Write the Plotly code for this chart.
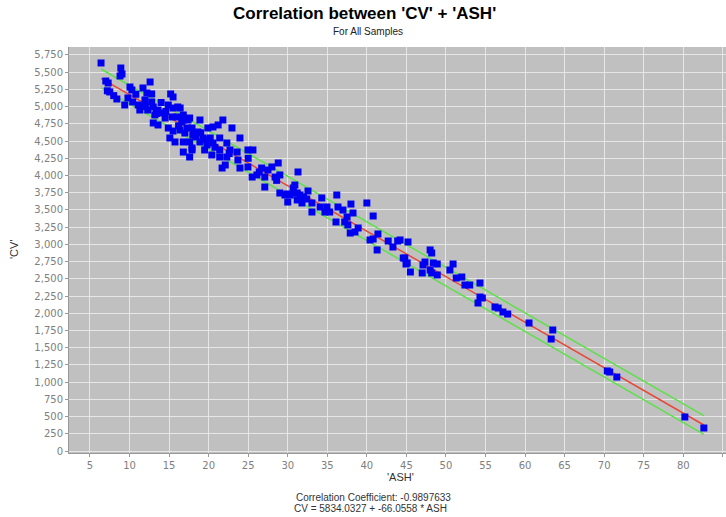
import plotly.graph_objects as go

# ---- data ----
ash = [
    6.4, 8.9, 9.05, 8.8, 7.0, 7.3, 7.5, 8.4,
    10.06, 10.3, 12.6, 11.7, 12.2, 12.8,
    9.8, 10.4, 9.4, 11.1, 11.95, 12.8, 11.3, 12.3, 13.0, 15.2, 15.5,
    13.6, 14.2, 14.9, 15.5, 16.1, 14.5, 15.4, 16.0, 16.8, 13.0, 13.6, 16.6, 17.4,
    14.9, 15.5, 16.4, 17.0, 15.1, 15.75, 17.9, 18.0, 16.8, 17.9, 17.6,
    16.4, 16.8, 17.6, 17.3, 18.9, 18.65, 16.8, 17.6, 17.9, 18.9,
    19.9, 20.55, 21.8, 21.2, 22.95, 23.96,
    19.3, 20.2, 19.8, 20.55, 21.4, 22.3, 19.5, 20.4, 21.4, 21.4, 22.3, 22.7, 23.6,
    24.97, 25.6, 23.7, 22.1, 21.7, 23.96, 24.97,
    25.5, 26.1, 26.7, 27.5, 28.0, 28.8, 27.1, 28.4, 29.0, 27.1, 29.0, 29.65, 30.3,
    30.9, 31.3, 31.2, 30.0,
    30.7, 29.9, 30.7, 31.55, 32.56, 31.2, 31.8, 32.4,
    33.06, 33.06, 34.3, 34.1, 34.96, 34.7, 35.3, 36.2, 36.35, 36.98, 37.99, 38.25,
    40.0, 40.8,
    36.1, 37.2, 37.5, 37.6, 37.9, 38.5, 38.9, 40.4, 40.8, 41.4, 41.3, 42.7, 43.3,
    43.9, 45.2, 44.8, 45.1,
    44.2, 48.0, 48.2,
    44.6, 44.95, 45.5, 47.0, 47.35, 47.1, 48.0, 48.4, 48.9, 48.2, 48.9,
    50.9, 50.5, 51.3, 52.0, 52.4, 53.0, 54.3, 54.3, 54.05, 56.2, 56.6, 57.2, 57.8,
    54.6, 60.5, 63.5, 63.3, 70.4, 70.7, 71.6, 80.2, 82.6,
    7.2, 8.0, 10.8, 11.5, 13.4, 14.0, 18.4, 19.0, 25.0, 26.4,
    12.0, 13.2, 14.6, 16.2, 18.2, 19.6, 20.8, 22.6, 28.6, 32.0,
]
cv = [
    5634, 5561, 5474, 5445, 5372, 5343, 5213, 5111,
    5285, 5242, 5358, 5271, 5198, 5184,
    5126, 5068, 5024, 5024, 5097, 5068, 4951, 4951, 4995, 5184, 5140,
    4951, 4908, 5024, 4980, 4995, 4835, 4850, 4850, 4879, 4763, 4734, 4777, 4806,
    4690, 4646, 4661, 4617, 4545, 4487, 4690, 4588, 4341, 4371, 4269,
    4980, 4806, 4835, 4690, 4806, 4632, 4487, 4487, 4400, 4487,
    4690, 4705, 4806, 4734, 4690, 4545,
    4545, 4545, 4443, 4472, 4545, 4472, 4371, 4298, 4371, 4269, 4269, 4371, 4341,
    4371, 4371, 4225, 4153, 4109, 4109, 4124,
    3978, 4008, 4109, 4080, 4124, 4182, 3978, 3978, 4008, 3833, 3746, 3717, 3717,
    3862, 4051, 3746, 3615,
    3819, 3732, 3746, 3717, 3775, 3645, 3601, 3659,
    3601, 3470, 3674, 3543, 3543, 3470, 3470, 3717, 3543, 3499, 3586, 3456,
    3601, 3412,
    3325, 3325, 3398, 3282, 3165, 3180, 3238, 3064, 3078, 3151, 2919, 3049, 2962,
    3049, 3035, 2802, 2730,
    3064, 2919, 2875,
    2802, 2715, 2599, 2585, 2744, 2701, 2628, 2730, 2715, 2585, 2556,
    2715, 2628, 2512, 2526, 2410, 2410, 2439, 2236, 2149, 2091, 2076, 2018, 1989,
    2222, 1859, 1757, 1626, 1162, 1147, 1074, 494, 334,
    5230, 5160, 5180, 5000, 4900, 5060, 4560, 4620, 4250, 4050,
    5010, 4880, 4930, 4720, 4620, 4520, 4410, 4320, 3930, 3690,
]

intercept = 5834.0327
slope = -66.0558
band = 135          # half-width of the green band (CV units)
corr = -0.9897633

x_ticks = list(range(5, 90, 5))
y_ticks = list(range(0, 6000, 250))

# ---- derived lines ----
x_line = [min(ash), max(ash)]
y_fit = [intercept + slope * v for v in x_line]
y_up = [v + band for v in y_fit]
y_lo = [v - band for v in y_fit]

fig = go.Figure()
green = "#5EE04A"
fig.add_trace(go.Scatter(x=x_line, y=y_up, mode="lines",
                         line=dict(color=green, width=1.5), hoverinfo="skip"))
fig.add_trace(go.Scatter(x=x_line, y=y_lo, mode="lines",
                         line=dict(color=green, width=1.5), hoverinfo="skip"))
fig.add_trace(go.Scatter(x=x_line, y=y_fit, mode="lines",
                         line=dict(color="#E8483A", width=1.5), hoverinfo="skip"))
fig.add_trace(go.Scatter(x=ash, y=cv, mode="markers",
                         marker=dict(symbol="square", size=7, color="#0000F0",
                                     line=dict(width=0))))

tickfont = dict(family="DejaVu Sans", size=10, color="#808080")
fig.update_layout(
    width=726, height=517,
    margin=dict(l=69, r=0, t=47, b=64),
    paper_bgcolor="white",
    plot_bgcolor="#C0C0C0",
    showlegend=False,
    xaxis=dict(range=[2.35, 85.4], tickvals=x_ticks,
               ticktext=[str(v) for v in x_ticks],
               showgrid=True, gridcolor="#E6E6E6", gridwidth=1,
               zeroline=False, ticks="outside", ticklen=3, tickcolor="#999",
               showline=True, linecolor="#999", linewidth=1,
               tickfont=tickfont),
    yaxis=dict(range=[-29, 5866], tickvals=y_ticks,
               ticktext=[f"{v:,}" for v in y_ticks],
               showgrid=True, gridcolor="#E6E6E6", gridwidth=1,
               zeroline=False, ticks="outside", ticklen=3, tickcolor="#999",
               showline=True, linecolor="#999", linewidth=1,
               tickfont=tickfont),
)

def px_x(p):
    return (p - 69) / 657.0

def px_y(p):
    return (453 - p) / 406.0

ann_font = dict(family="Liberation Sans", size=10, color="#333")
fig.add_annotation(text="<b>Correlation between 'CV' + 'ASH'</b>",
                   x=px_x(364), y=px_y(13), xref="paper", yref="paper",
                   showarrow=False, xanchor="center", yanchor="middle",
                   font=dict(family="Liberation Sans", size=17, color="black"))
fig.add_annotation(text="For All Samples",
                   x=px_x(368), y=px_y(31), xref="paper", yref="paper",
                   showarrow=False, xanchor="center", yanchor="middle",
                   font=dict(family="Liberation Sans", size=10, color="#222"))
fig.add_annotation(text="'ASH'",
                   x=px_x(400), y=px_y(477), xref="paper", yref="paper",
                   showarrow=False, xanchor="center", yanchor="middle",
                   font=dict(family="Liberation Sans", size=11, color="#333"))
fig.add_annotation(text="'CV'", textangle=-90,
                   x=px_x(14), y=px_y(250), xref="paper", yref="paper",
                   showarrow=False, xanchor="center", yanchor="middle",
                   font=dict(family="Liberation Sans", size=11, color="#333"))
fig.add_annotation(text=f"Correlation Coefficient: {corr}",
                   x=px_x(373), y=px_y(497), xref="paper", yref="paper",
                   showarrow=False, xanchor="center", yanchor="middle",
                   font=ann_font)
fig.add_annotation(text=f"CV = {intercept:.4f} + {slope:.4f} * ASH",
                   x=px_x(370), y=px_y(508), xref="paper", yref="paper",
                   showarrow=False, xanchor="center", yanchor="middle",
                   font=ann_font)

fig.write_html("out.html",
               config={"displayModeBar": False},
               post_script="document.body.style.margin='0px';"
                           "document.body.style.overflow='hidden';")
